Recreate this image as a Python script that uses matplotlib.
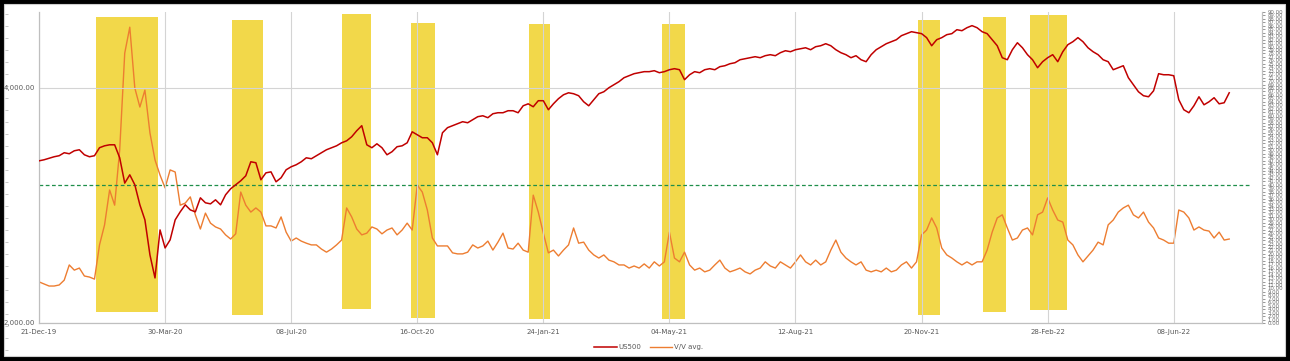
import numpy as np
import pandas as pd
import matplotlib
matplotlib.use("Agg")
import matplotlib.pyplot as plt
import matplotlib.dates as mdates
from matplotlib.patches import Rectangle
from matplotlib.ticker import FixedLocator, FuncFormatter, NullLocator

# ---------------- data ----------------
dates = pd.date_range("2019-12-21", periods=237, freq="4D")

us500 = [
    3225, 3235, 3250, 3264, 3274, 3303, 3293, 3322, 3332, 3283,
    3264, 3274, 3352, 3371, 3381, 3381, 3254, 3020, 3095, 3005,
    2833, 2710, 2444, 2284, 2631, 2495, 2555, 2710, 2775, 2833,
    2791, 2775, 2892, 2850, 2841, 2875, 2833, 2918, 2970, 3005,
    3041, 3086, 3216, 3207, 3050, 3113, 3122, 3032, 3068, 3141,
    3169, 3188, 3216, 3254, 3245, 3274, 3303, 3332, 3352, 3371,
    3401, 3421, 3462, 3524, 3577, 3381, 3352, 3391, 3352, 3283,
    3313, 3362, 3371, 3401, 3513, 3482, 3452, 3452, 3401, 3283,
    3503, 3556, 3577, 3598, 3619, 3608, 3640, 3673, 3683, 3662,
    3705, 3716, 3716, 3738, 3738, 3716, 3793, 3815, 3782, 3850,
    3850, 3749, 3815, 3873, 3918, 3941, 3930, 3907, 3838, 3793,
    3861, 3930, 3953, 4000, 4036, 4072, 4120, 4144, 4169, 4181,
    4194, 4194, 4206, 4181, 4194, 4218, 4231, 4218, 4096, 4156,
    4194, 4181, 4218, 4231, 4218, 4256, 4268, 4293, 4306, 4344,
    4357, 4370, 4383, 4370, 4396, 4409, 4396, 4435, 4461, 4448,
    4474, 4487, 4500, 4474, 4514, 4527, 4554, 4527, 4474, 4435,
    4409, 4370, 4396, 4344, 4319, 4409, 4474, 4514, 4554, 4581,
    4608, 4663, 4691, 4718, 4705, 4691, 4636, 4527, 4608, 4636,
    4677, 4691, 4746, 4732, 4774, 4803, 4774, 4718, 4691, 4608,
    4527, 4370, 4344, 4474, 4567, 4500, 4409, 4344, 4243, 4319,
    4370, 4409, 4319, 4448, 4541, 4581, 4636, 4581, 4500, 4448,
    4409, 4344, 4319, 4218, 4243, 4268, 4120, 4036, 3953, 3907,
    3895, 3964, 4169, 4156, 4156, 4144, 3861, 3749, 3716, 3793,
    3895, 3804, 3838, 3884, 3815, 3827, 3941,
]

vv_avg = [
    11.9, 11.3, 10.7, 10.7, 11.0, 12.4, 16.8, 15.3, 15.9, 13.6,
    13.3, 12.7, 22.6, 28.4, 38.5, 34.1, 50.1, 78.1, 85.6, 68.0,
    62.5, 67.4, 55.0, 47.2, 42.8, 39.1, 44.3, 43.7, 34.1, 34.7,
    36.5, 31.3, 27.2, 31.8, 28.9, 27.8, 27.2, 25.5, 24.3, 25.8,
    37.9, 34.1, 32.1, 33.3, 32.1, 28.1, 28.1, 27.5, 30.7, 26.3,
    23.7, 24.6, 23.7, 23.1, 22.6, 22.6, 21.4, 20.5, 21.4, 22.6,
    24.0, 33.3, 30.7, 27.2, 25.5, 26.0, 27.8, 27.2, 25.8, 26.9,
    27.5, 25.5, 26.9, 28.9, 26.9, 39.9, 37.9, 32.7, 24.6, 22.3,
    22.3, 22.3, 20.3, 20.0, 20.0, 20.5, 22.6, 21.7, 22.3, 23.7,
    21.1, 23.4, 26.0, 21.7, 21.4, 23.1, 21.1, 20.5, 37.0, 32.1,
    26.0, 20.3, 21.1, 19.4, 21.1, 22.6, 27.5, 23.1, 23.4, 21.1,
    19.7, 18.8, 19.7, 18.2, 17.7, 16.8, 16.8, 15.9, 16.5, 15.9,
    17.1, 15.9, 17.7, 16.5, 17.7, 26.3, 18.8, 17.7, 20.5, 16.8,
    15.3, 15.9, 14.8, 15.3, 16.8, 18.2, 15.9, 14.8, 15.3, 15.9,
    14.8, 14.2, 15.3, 15.9, 17.7, 16.5, 15.9, 17.7, 16.8, 15.9,
    17.7, 19.7, 17.7, 16.8, 18.2, 16.8, 17.7, 21.1, 24.0, 20.5,
    18.8, 17.7, 16.8, 17.7, 15.3, 14.8, 15.3, 14.8, 15.9, 14.8,
    15.3, 16.8, 17.7, 15.9, 17.7, 25.5, 26.9, 30.4, 27.5, 21.7,
    19.7, 18.8, 17.7, 16.8, 17.7, 16.8, 17.7, 17.7, 21.1, 26.3,
    30.4, 31.3, 27.5, 24.0, 24.6, 26.9, 27.5, 25.5, 31.3, 32.1,
    36.2, 32.7, 29.8, 29.2, 24.0, 22.6, 19.7, 17.7, 19.4, 21.1,
    23.4, 22.6, 28.4, 29.8, 32.1, 33.3, 34.1, 31.3, 30.4, 32.1,
    29.2, 27.5, 24.6, 24.0, 23.1, 23.1, 32.7, 32.1, 30.4, 26.9,
    27.8, 26.9, 26.6, 24.6, 26.3, 24.0, 24.3,
]

threshold = 40.0

band_start = ["2020-02-04", "2020-05-22", "2020-08-17", "2020-10-11", "2021-01-13",
              "2021-04-28", "2021-11-17", "2022-01-08", "2022-02-14"]
band_end = ["2020-03-24", "2020-06-16", "2020-09-09", "2020-10-30", "2021-01-29",
            "2021-05-16", "2021-12-05", "2022-01-26", "2022-03-15"]
band_low = [3.2, 2.3, 4.1, 1.4, 1.2, 1.2, 2.3, 3.2, 3.8]
band_high = [88.5, 87.7, 89.4, 86.8, 86.5, 86.5, 87.7, 88.5, 89.1]

xtick_dates = ["2019-12-21", "2020-03-30", "2020-07-08", "2020-10-16", "2021-01-24",
               "2021-05-04", "2021-08-12", "2021-11-20", "2022-02-28", "2022-06-08"]
left_ticks = [2000, 4000]
right_ticks = list(range(0, 91))

# ---------------- figure ----------------
W, H = 1290, 361
fig = plt.figure(figsize=(W / 100, H / 100), dpi=100)
fig.patch.set_facecolor("black")
fig.patches.append(Rectangle((4 / W, 5 / H), (1285 - 4) / W, (357 - 5) / H,
                             transform=fig.transFigure, facecolor="white",
                             edgecolor="#cfcfcf", lw=0.8, zorder=-10))

# faint tick strip at the far left edge
axe = fig.add_axes([5 / W, 5 / H, 0.0001, 352 / H])
axe.set_ylim(0, 352)
axe.yaxis.set_major_locator(FixedLocator(np.arange(6, 352, 12)))
axe.set_yticklabels([])
axe.tick_params(axis="y", length=2.5, color="#bdbdbd", width=0.6, direction="out", left=False, right=True)
axe.set_xticks([])
for s in axe.spines.values():
    s.set_visible(False)
axe.patch.set_visible(False)

ax1 = fig.add_axes([39 / W, 38 / H, 1223 / W, 311 / H])
ax2 = ax1.twinx()
ax1.set_zorder(ax2.get_zorder() + 1)
ax1.patch.set_visible(False)

# yellow bands
bs = mdates.date2num(pd.to_datetime(band_start))
be = mdates.date2num(pd.to_datetime(band_end))
ax2.bar(bs, np.array(band_high) - np.array(band_low), width=be - bs, bottom=band_low,
        align="edge", color="#F2D84A", edgecolor="none", zorder=1)

ax2.plot(dates, vv_avg, color="#ED7D31", lw=1.0, zorder=3, label="V/V avg.")
ax2.hlines(threshold, pd.Timestamp("2019-12-21"), pd.Timestamp("2022-08-08"),
           colors="#1f8f4a", linestyles=(0, (3, 2)), lw=0.9, zorder=4)

ax1.plot(dates, us500, color="#C00000", lw=1.1, zorder=5, label="US500")

# axes setup
ax1.set_yscale("log")
ax1.set_ylim(2000, 5000)
ax1.yaxis.set_major_locator(FixedLocator(left_ticks))
ax1.yaxis.set_minor_locator(NullLocator())
ax1.yaxis.set_major_formatter(FuncFormatter(lambda v, p: f"{v:,.2f}"))
ax1.tick_params(axis="y", labelsize=5, colors="#595959", length=0, pad=3)

ax1.set_xlim(pd.Timestamp("2019-12-21"), pd.Timestamp("2022-08-17"))
ax1.xaxis.set_major_locator(FixedLocator(mdates.date2num(pd.to_datetime(xtick_dates))))
ax1.xaxis.set_major_formatter(mdates.DateFormatter("%d-%b-%y"))
ax1.tick_params(axis="x", labelsize=5, colors="#595959", length=0, pad=4)
ax1.grid(True, color="#d4d4d4", lw=0.8)

ax2.set_ylim(0, 90)
ax2.yaxis.set_major_locator(FixedLocator(right_ticks))
ax2.yaxis.set_major_formatter(FuncFormatter(lambda v, p: f"{v:.2f}"))
ax2.tick_params(axis="y", labelsize=3.9, colors="#6f6f6f", length=2.5, width=0.5, pad=1.5)

for ax in (ax1, ax2):
    ax.spines["top"].set_visible(False)
    for s in ("left", "bottom", "right"):
        ax.spines[s].set_color("#bfbfbf")
        ax.spines[s].set_linewidth(0.8)

h1, l1 = ax1.get_legend_handles_labels()
h2, l2 = ax2.get_legend_handles_labels()
fig.legend(h1 + h2, l1 + l2, loc="center", bbox_to_anchor=(0.503, 14 / H),
           ncol=2, frameon=False, fontsize=5, handlelength=3.2, columnspacing=1.2,
           handletextpad=0.3, labelcolor="#595959")

fig.savefig("out.png", dpi=100, facecolor=fig.get_facecolor())
